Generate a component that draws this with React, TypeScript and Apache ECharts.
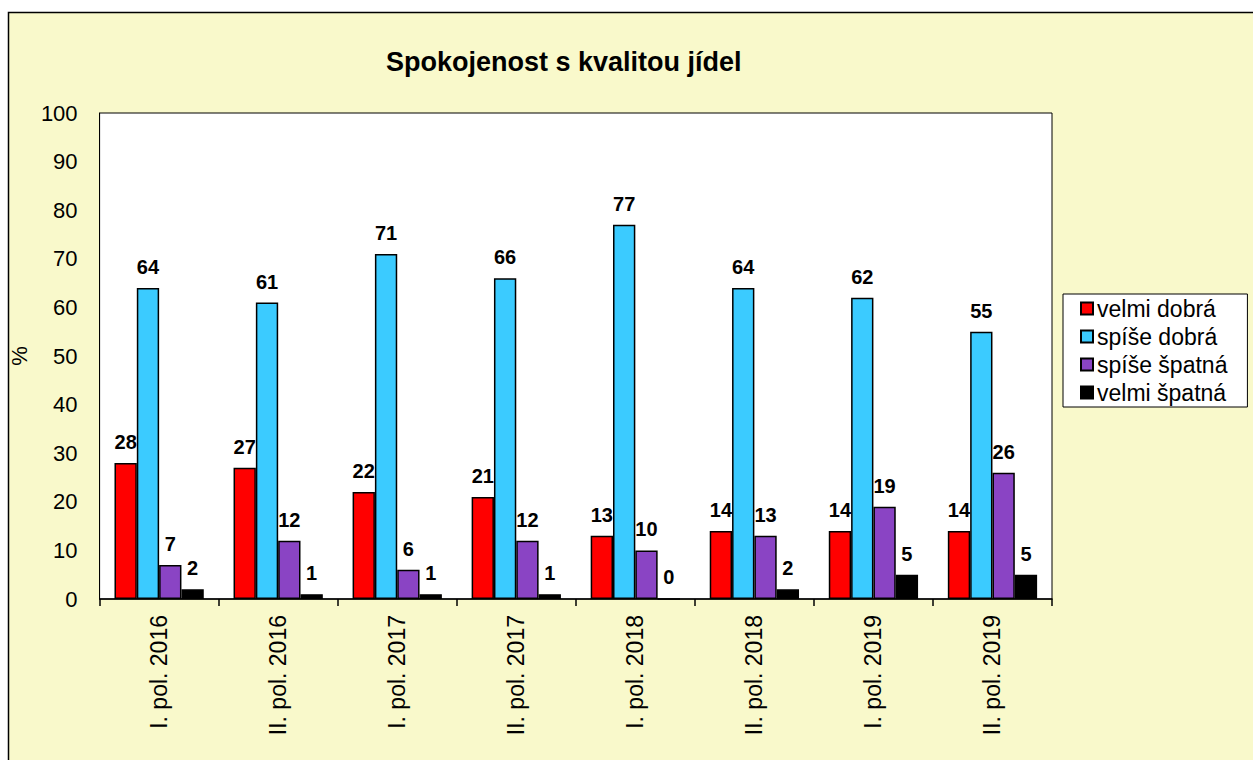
import React, { useEffect, useRef } from "react";
import * as echarts from "echarts";

const categories = [
  "I. pol. 2016",
  "II. pol. 2016",
  "I. pol. 2017",
  "II. pol. 2017",
  "I. pol. 2018",
  "II. pol. 2018",
  "I. pol. 2019",
  "II. pol. 2019",
];
const seriesNames = ["velmi dobrá", "spíše dobrá", "spíše špatná", "velmi špatná"];
const velmiDobra = [28, 27, 22, 21, 13, 14, 14, 14];
const spiseDobra = [64, 61, 71, 66, 77, 64, 62, 55];
const spiseSpatna = [7, 12, 6, 12, 10, 13, 19, 26];
const velmiSpatna = [2, 1, 1, 1, 0, 2, 5, 5];
const colors = ["#FF0000", "#3BCBFF", "#8A44C4", "#000000"];
const title = "Spokojenost s kvalitou jídel";
const yName = "%";

const FONT = "'Liberation Sans', Arial, sans-serif";

export default function App() {
  const ref = useRef<HTMLDivElement>(null);
  useEffect(() => {
    document.body.style.margin = "0";
    const chart = echarts.init(ref.current!, null, { renderer: "svg" });
    const data = [velmiDobra, spiseDobra, spiseSpatna, velmiSpatna];
    chart.setOption({
      animation: false,
      backgroundColor: "#ffffff",
      textStyle: { fontFamily: FONT },
      graphic: [
        {
          type: "rect",
          z: -10,
          silent: true,
          shape: { x: 8.5, y: 12.5, width: 1300, height: 800 },
          style: { fill: "#F9F9CB", stroke: "#000000", lineWidth: 1.5 },
        },
      ],
      title: {
        text: title,
        left: 386,
        top: 48,
        padding: 0,
        textStyle: { fontFamily: FONT, fontSize: 27, fontWeight: "bold", color: "#000" },
      },
      legend: {
        orient: "vertical",
        left: 1063,
        top: 294,
        backgroundColor: "#ffffff",
        borderColor: "#000000",
        borderWidth: 1,
        borderRadius: 0,
        padding: [3, 20, 3, 17],
        itemWidth: 12,
        itemHeight: 12,
        itemGap: 5,
        icon: "rect",
        textStyle: { fontFamily: FONT, fontSize: 23, color: "#000", padding: [0, 0, 0, -1] },
        data: seriesNames,
      },
      grid: {
        left: 97,
        top: 113,
        right: 201,
        bottom: 161,
        show: true,
        backgroundColor: "#ffffff",
        borderColor: "#000000",
        borderWidth: 1,
      },
      xAxis: {
        type: "category",
        data: categories,
        axisLine: { lineStyle: { color: "#000", width: 1.5 } },
        axisTick: { show: true, length: 7, lineStyle: { color: "#000", width: 1.5 } },
        axisLabel: {
          rotate: 90,
          margin: 16,
          fontFamily: FONT,
          fontSize: 23,
          color: "#000",
        },
      },
      yAxis: {
        type: "value",
        min: 0,
        max: 100,
        interval: 10,
        name: yName,
        nameLocation: "middle",
        nameRotate: 90,
        nameGap: 64,
        nameTextStyle: { fontFamily: FONT, fontSize: 22, color: "#000" },
        splitLine: { show: false },
        axisLine: { show: true, lineStyle: { color: "#000", width: 1 } },
        axisTick: { show: false },
        axisLabel: { margin: 22, fontFamily: FONT, fontSize: 22, color: "#000" },
      },
      series: seriesNames.map((name, i) => ({
        name,
        type: "bar",
        data: data[i],
        barGap: "0%",
        barCategoryGap: "25%",
        itemStyle: { color: colors[i], borderColor: "#000", borderWidth: 1.5 },
        label: {
          show: true,
          position: "top",
          distance: 11,
          fontFamily: FONT,
          fontSize: 20,
          fontWeight: "bold",
          color: "#000",
        },
      })),
    });
    return () => chart.dispose();
  }, []);
  return <div ref={ref} style={{ width: 1253, height: 760 }} />;
}
